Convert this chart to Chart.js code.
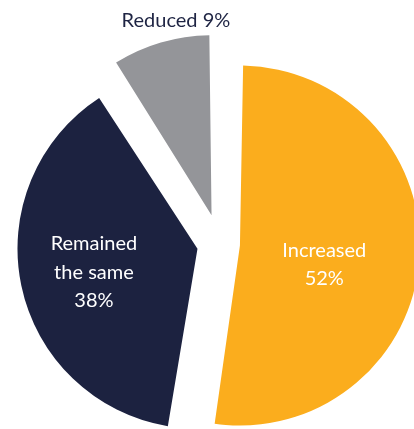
<!DOCTYPE html>
<html>
<head>
<meta charset="utf-8">
<script src="https://cdn.jsdelivr.net/npm/chart.js@4.4.1/dist/chart.umd.min.js"></script>
<style>
  html, body { margin: 0; padding: 0; background: #fff; overflow: hidden; }
  #wrap { position: absolute; left: 0; top: 0; }
</style>
</head>
<body>
<div id="wrap"><canvas id="pieChart" width="440" height="488"></canvas></div>
<script>
// PIE CHART DATA
const categories = ['Increased', 'Remained the same', 'Reduced'];
const shares = [52, 38, 9];
const sliceColors = ['#FBAD1D', '#1C2240', '#949599'];
// how far each slice is pulled out, in px
const sliceShift = [20, 23, 30];
const pieRadius = 180;

// label text: lines drawn inside (or outside) each slice
const labelLines = [['Increased'], ['Remained', 'the same'], ['Reduced']];
const labelInline = [false, false, true];   // percentage on same line
const labelColors = ['#ffffff', '#ffffff', '#1E2443'];
// where the label sits: fraction of radius from the slice tip, and turn in degrees
const labelDist = [0.48, 0.59, 1.1];
const labelTurn = [8, -1, 6];

// chart.js moves an arc by offset/4 and grows it a bit too; undo the growth
// so every exploded slice keeps the same radius
const keepRadius = {
  id: 'keepRadius',
  afterDatasetUpdate(chart, args) {
    args.meta.data.forEach((arc, i) => {
      const fix = 1 - Math.sin(Math.min(Math.PI, arc.circumference || 0));
      arc.outerRadius = pieRadius - sliceShift[i] * fix;
    });
  }
};

const pieLabels = {
  id: 'pieLabels',
  afterDatasetsDraw(chart) {
    const ctx = chart.ctx;
    const arcs = chart.getDatasetMeta(0).data;
    ctx.save();
    ctx.font = '20px Lato, "DejaVu Sans", sans-serif';
    ctx.textAlign = 'center';
    ctx.textBaseline = 'middle';
    arcs.forEach((arc, i) => {
      const mid = (arc.startAngle + arc.endAngle) / 2;
      const tipX = arc.x + Math.cos(mid) * sliceShift[i];
      const tipY = arc.y + Math.sin(mid) * sliceShift[i];
      const a = mid + labelTurn[i] * Math.PI / 180;
      const d = pieRadius * labelDist[i];
      const x = tipX + Math.cos(a) * d;
      const y = tipY + Math.sin(a) * d;
      let lines = labelLines[i].slice();
      if (labelInline[i]) {
        lines[lines.length - 1] += ' ' + shares[i] + '%';
      } else {
        lines.push(shares[i] + '%');
      }
      const lh = 28.5;
      ctx.fillStyle = labelColors[i];
      lines.forEach((t, j) => {
        ctx.fillText(t, x, y + (j - (lines.length - 1) / 2) * lh);
      });
    });
    ctx.restore();
  }
};

const pieChartData = {
  labels: categories,
  datasets: [{
    data: shares,
    backgroundColor: sliceColors,
    borderWidth: 0,
    offset: sliceShift.map(s => s * 4)
  }]
};

const pieChartConfig = {
  type: 'pie',
  data: pieChartData,
  options: {
    responsive: false,
    animation: false,
    radius: pieRadius,
    layout: { padding: 0 },
    plugins: {
      legend: { display: false },
      tooltip: { enabled: false }
    }
  },
  plugins: [keepRadius, pieLabels]
};

const pieChart = new Chart(
  document.getElementById('pieChart'),
  pieChartConfig
);
</script>
</body>
</html>
